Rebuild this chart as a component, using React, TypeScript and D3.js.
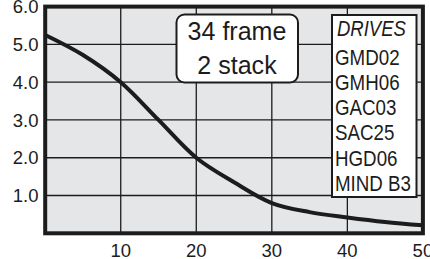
import React, { useRef, useEffect } from 'react';
import * as d3 from 'd3';

// curve values
const xValues = [0, 5, 10, 15, 20, 25, 30, 35, 40, 45, 50];
const yValues = [5.25, 4.72, 4.0, 3.0, 2.0, 1.35, 0.8, 0.56, 0.42, 0.3, 0.21];

const xTicks = [10, 20, 30, 40, 50];
const yTicks = [1, 2, 3, 4, 5, 6];

const boxLines = ['34 frame', '2 stack'];
const legendTitle = 'DRIVES';
const drives = ['GMD02', 'GMH06', 'GAC03', 'SAC25', 'HGD06', 'MIND B3'];

const W = 430;
const H = 259;

export default function App() {
  const svgRef = useRef<SVGSVGElement>(null);

  useEffect(() => {
    const svg = d3.select(svgRef.current);
    svg.selectAll('*').remove();

    const x = d3.scaleLinear().domain([0, 50]).range([45.2, 422.9]);
    const y = d3.scaleLinear().domain([0, 6]).range([233.3, 6.6]);

    const ink = '#1c1c1c';
    const font = "'Liberation Sans', Arial, sans-serif";
    const squeeze = 0.86; // узкий шрифт: сжимаем по горизонтали

    // фон
    svg.append('rect')
      .attr('x', x(0)).attr('y', y(6))
      .attr('width', x(50) - x(0)).attr('height', y(0) - y(6))
      .attr('fill', '#e5e6e8');

    // сетка
    const grid = svg.append('g').attr('stroke', ink).attr('stroke-width', 1.3);
    grid.selectAll('line.v')
      .data(xTicks.slice(0, -1))
      .join('line')
        .attr('x1', d => x(d)).attr('x2', d => x(d))
        .attr('y1', y(0)).attr('y2', y(6));
    grid.selectAll('line.h')
      .data(yTicks.slice(0, -1))
      .join('line')
        .attr('class', 'h')
        .attr('x1', x(0)).attr('x2', x(50))
        .attr('y1', d => y(d)).attr('y2', d => y(d));

    // кривая
    const pts = xValues.map((v, i) => [v, yValues[i]] as [number, number]);
    const line = d3.line<[number, number]>()
      .x(d => x(d[0]))
      .y(d => y(d[1]))
      .curve(d3.curveCatmullRom.alpha(0.5));
    svg.append('path')
      .attr('d', line(pts))
      .attr('fill', 'none')
      .attr('stroke', ink)
      .attr('stroke-width', 4);

    // рамка
    svg.append('rect')
      .attr('x', x(0)).attr('y', y(6))
      .attr('width', x(50) - x(0)).attr('height', y(0) - y(6))
      .attr('fill', 'none')
      .attr('stroke', ink)
      .attr('stroke-width', 4);

    // подписи осей
    svg.append('g')
      .selectAll('text')
      .data(yTicks)
      .join('text')
        .attr('x', 38.5)
        .attr('y', d => y(d))
        .attr('dy', '0.36em')
        .attr('text-anchor', 'end')
        .attr('font-family', font)
        .attr('font-size', 18.5)
        .attr('fill', ink)
        .text(d => d.toFixed(1));

    svg.append('g')
      .selectAll('text')
      .data(xTicks)
      .join('text')
        .attr('x', d => x(d))
        .attr('y', 256.5)
        .attr('text-anchor', 'middle')
        .attr('font-family', font)
        .attr('font-size', 18.5)
        .attr('fill', ink)
        .text(d => d);

    // "34 frame / 2 stack"
    svg.append('rect')
      .attr('x', 176.5).attr('y', 14.5)
      .attr('width', 121.5).attr('height', 68)
      .attr('rx', 8)
      .attr('fill', '#fff')
      .attr('stroke', ink)
      .attr('stroke-width', 2);
    svg.append('g')
      .selectAll('text')
      .data(boxLines)
      .join('text')
        .attr('transform', (_, i) => `translate(237,${40 + i * 34}) scale(${squeeze * 1.12},1)`)
        .attr('text-anchor', 'middle')
        .attr('font-family', font)
        .attr('font-size', 26)
        .attr('fill', ink)
        .text(d => d);

    // легенда
    svg.append('rect')
      .attr('x', 332).attr('y', 15)
      .attr('width', 84.5).attr('height', 182)
      .attr('fill', '#fff')
      .attr('stroke', ink)
      .attr('stroke-width', 2);
    svg.append('text')
      .attr('transform', `translate(337,36) scale(${squeeze},1)`)
      .attr('font-family', font)
      .attr('font-style', 'italic')
      .attr('font-size', 21.5)
      .attr('fill', ink)
      .text(legendTitle);
    svg.append('g')
      .selectAll('text')
      .data(drives)
      .join('text')
        .attr('transform', (_, i) => `translate(335,${64.5 + i * 25.3}) scale(${squeeze},1)`)
        .attr('font-family', font)
        .attr('font-size', 21.8)
        .attr('fill', ink)
        .text(d => d);
  }, []);

  return (
    <svg
      ref={svgRef}
      width={W}
      height={H}
      viewBox={`0 0 ${W} ${H}`}
      style={{ position: 'absolute', left: 0, top: 0, display: 'block', background: '#fff' }}
    />
  );
}
